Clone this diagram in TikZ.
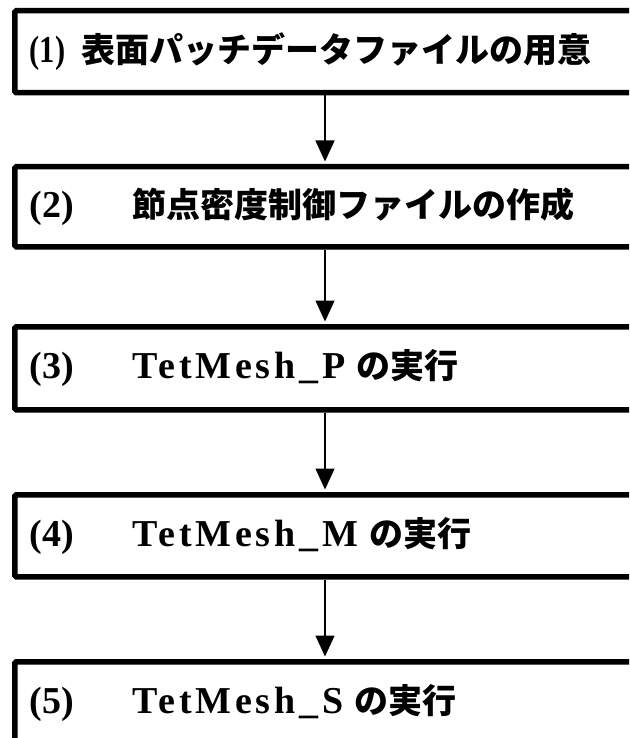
\documentclass[tikz,border=0pt]{standalone}
\usepackage{fontspec}
\setmainfont{Liberation Serif}
\newfontfamily\jp{Noto Sans CJK JP}
\usetikzlibrary{arrows.meta}
\newcommand{\lat}[1]{{\fontsize{38}{40}\selectfont\addfontfeature{LetterSpace=10}#1}}
\newcommand{\num}[1]{{\fontsize{38}{40}\selectfont #1}}
\tikzset{
  stepbox/.style={draw=black, line width=5.5pt, rounded corners=1.5pt, anchor=north west,
    minimum width=700pt, minimum height=81pt, text width=670pt, align=left,
    inner xsep=15pt, inner ysep=0pt, font=\fontsize{34}{40}\selectfont\bfseries},
  flow/.style={line width=1.5pt, -{Triangle[width=19pt,length=21pt]}, shorten >=2.5pt}
}
\begin{document}
\begin{tikzpicture}[x=1pt,y=1pt]
\useasboundingbox (0,0) rectangle (629,-738);
\clip (0,0) rectangle (629,-738);
\node[stepbox, minimum height=82pt] (b1) at (12,-8) {\makebox[52pt][l]{\scalebox{0.8}[1]{\num{(1)}}}{\jp 表面パッチデータファイルの用意}};
\node[stepbox, minimum height=80pt] (b2) at (12,-164) {\makebox[103pt][l]{\num{(2)}}{\jp 節点密度制御ファイルの作成}};
\node[stepbox, minimum height=83pt] (b3) at (12,-324) {\makebox[103pt][l]{\num{(3)}}\lat{TetMesh\_P} {\jp の実行}};
\node[stepbox, minimum height=82pt] (b4) at (12,-492) {\makebox[103pt][l]{\num{(4)}}\lat{TetMesh\_M} {\jp の実行}};
\node[stepbox, minimum height=82pt] (b5) at (12,-659) {\makebox[103pt][l]{\num{(5)}}\lat{TetMesh\_S} {\jp の実行}};
\coordinate (ax) at (325,0);
\draw[flow] (b1.south -| ax) -- (b2.north -| ax);
\draw[flow] (b2.south -| ax) -- (b3.north -| ax);
\draw[flow] (b3.south -| ax) -- (b4.north -| ax);
\draw[flow] (b4.south -| ax) -- (b5.north -| ax);
\end{tikzpicture}
\end{document}
